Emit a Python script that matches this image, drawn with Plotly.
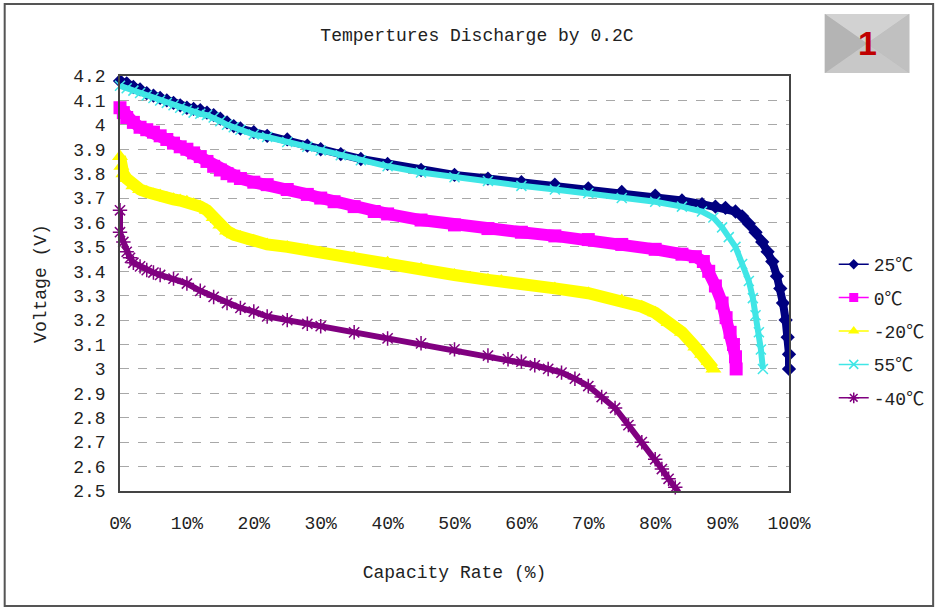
import plotly.graph_objects as go

# capacity (%) and voltage (V)
cap_25 = [0, 1, 2, 3, 4, 5, 6, 7, 8, 9, 10, 11, 12, 13, 14, 15, 16, 17, 18, 20, 22, 25, 28, 30, 33, 36, 40, 45,
          50, 55, 60, 65, 70, 75, 80, 84, 87, 89, 90.5, 92, 93, 94, 95, 96, 96.8, 97.5, 98.2, 98.7, 99.1, 99.5,
          99.8, 100, 100]
v_25 = [4.18, 4.17, 4.155, 4.145, 4.13, 4.12, 4.11, 4.10, 4.09, 4.08, 4.07, 4.065, 4.06, 4.05, 4.04, 4.025, 4.01,
        3.995, 3.985, 3.97, 3.955, 3.94, 3.915, 3.90, 3.88, 3.86, 3.84, 3.815, 3.795, 3.78, 3.765, 3.755, 3.74,
        3.725, 3.71, 3.69, 3.675, 3.665, 3.66, 3.645, 3.625, 3.595, 3.56, 3.52, 3.48, 3.44, 3.38, 3.33, 3.27,
        3.20, 3.13, 3.06, 3.00]

cap_0 = [0, 0.5, 1, 2, 3, 4, 5, 6, 7, 8, 9, 10, 11, 12, 13, 14, 15, 16, 17, 18, 20, 22, 25, 28, 30, 32, 35, 38,
         40, 45, 50, 55, 60, 65, 70, 75, 80, 84, 86, 87.2, 88, 89, 90, 90.6, 91.2, 91.7, 92, 92.1]
v_0 = [4.07, 4.05, 4.03, 4.01, 3.99, 3.98, 3.97, 3.955, 3.94, 3.925, 3.91, 3.90, 3.885, 3.87, 3.85, 3.83, 3.815,
       3.80, 3.79, 3.78, 3.765, 3.755, 3.735, 3.715, 3.70, 3.685, 3.665, 3.645, 3.635, 3.61, 3.59, 3.575, 3.56,
       3.545, 3.53, 3.51, 3.49, 3.47, 3.46, 3.44, 3.40, 3.34, 3.27, 3.21, 3.15, 3.10, 3.05, 3.00]

cap_m20 = [0, 0.2, 0.5, 1, 2, 3, 4, 5, 6, 7, 8, 9, 10, 11, 12, 13, 14, 15, 16, 17, 18, 20, 22, 25, 28, 30, 35,
           40, 45, 50, 55, 57, 60, 65, 70, 75, 78, 80, 82, 84, 86, 87, 88, 88.7]
v_m20 = [3.87, 3.83, 3.80, 3.78, 3.75, 3.735, 3.725, 3.715, 3.71, 3.70, 3.695, 3.69, 3.685, 3.675, 3.665, 3.65,
         3.62, 3.59, 3.565, 3.55, 3.54, 3.525, 3.51, 3.50, 3.485, 3.475, 3.455, 3.435, 3.41, 3.385, 3.365, 3.36,
         3.345, 3.33, 3.31, 3.28, 3.255, 3.23, 3.19, 3.15, 3.09, 3.06, 3.03, 3.00]

cap_55 = [0, 1, 2, 3, 4, 5, 6, 7, 8, 9, 10, 11, 12, 13, 14, 15, 16, 17, 18, 20, 22, 25, 28, 30, 33, 36, 40, 45,
          50, 55, 60, 65, 70, 75, 80, 84, 87, 88.7, 90, 91, 92, 93, 94, 94.6, 95, 95.5, 95.8, 96.1]
v_55 = [4.16, 4.15, 4.14, 4.13, 4.12, 4.11, 4.10, 4.09, 4.08, 4.07, 4.06, 4.05, 4.045, 4.04, 4.03, 4.015, 4.00,
        3.99, 3.98, 3.96, 3.95, 3.93, 3.91, 3.895, 3.875, 3.855, 3.83, 3.805, 3.785, 3.77, 3.75, 3.735, 3.72,
        3.70, 3.685, 3.665, 3.645, 3.62, 3.58, 3.54, 3.50, 3.43, 3.36, 3.29, 3.22, 3.15, 3.08, 3.00]

cap_m40 = [0, 0, 0.5, 1, 1.5, 2, 3, 4, 5, 6, 8, 10, 12, 14, 16, 18, 20, 22, 25, 28, 30, 35, 40, 45, 50, 55, 58,
           60, 62, 64, 66, 68, 70, 72, 74, 76, 78, 80, 81, 82, 83, 83.5]
v_m40 = [3.65, 3.56, 3.52, 3.48, 3.455, 3.435, 3.42, 3.405, 3.395, 3.385, 3.37, 3.35, 3.32, 3.295, 3.27, 3.25,
         3.235, 3.215, 3.20, 3.185, 3.175, 3.15, 3.125, 3.105, 3.08, 3.055, 3.04, 3.03, 3.015, 3.00, 2.985, 2.96,
         2.93, 2.885, 2.84, 2.77, 2.70, 2.63, 2.59, 2.55, 2.515, 2.495]

names = ["25℃", "0℃", "-20℃", "55℃", "-40℃"]
x_ticks = [0, 10, 20, 30, 40, 50, 60, 70, 80, 90, 100]
x_tick_text = ["0%", "10%", "20%", "30%", "40%", "50%", "60%", "70%", "80%", "90%", "100%"]
y_ticks = [4.2, 4.1, 4.0, 3.9, 3.8, 3.7, 3.6, 3.5, 3.4, 3.3, 3.2, 3.1, 3.0, 2.9, 2.8, 2.7, 2.6, 2.5]
y_tick_text = ["4.2", "4.1", "4", "3.9", "3.8", "3.7", "3.6", "3.5", "3.4", "3.3", "3.2", "3.1", "3",
               "2.9", "2.8", "2.7", "2.6", "2.5"]

W, H = 942, 610
L, R, T, B = 120, 793, 76, 491
FONT = "Liberation Mono, Noto Sans CJK SC, monospace"


def px(x):
    return (x - L) / (R - L)


def py(y):
    return (B - y) / (B - T)


styles = [
    # colour, marker symbol, marker size, band width, legend marker size
    ("#000080", "diamond", 11, 8, 8),
    ("#ff00ff", "square", 13, 12, 9),
    ("#ffff00", "triangle-up", 14, 12, 10),
    ("#40e6e6", "x-thin-open", 10, 6, 9),
    ("#800080", "asterisk-open", 12, 6, 9),
]
series = [(cap_25, v_25), (cap_0, v_0), (cap_m20, v_m20), (cap_55, v_55), (cap_m40, v_m40)]

fig = go.Figure()
for (xs, ys), name, (col, sym, msz, lw, lsz) in zip(series, names, styles):
    open_sym = sym.endswith("open")
    fig.add_trace(go.Scatter(
        x=xs, y=ys, mode="lines+markers", showlegend=False, cliponaxis=False,
        line=dict(color=col, width=lw),
        marker=dict(symbol=sym, size=msz, color=col,
                    line=dict(color=col, width=1.5 if open_sym else 0)),
    ))
for name, (col, sym, msz, lw, lsz) in zip(names, styles):
    open_sym = sym.endswith("open")
    fig.add_trace(go.Scatter(
        x=[None], y=[None], mode="lines+markers", name=name, legendgroup=name,
        line=dict(color=col, width=1.5),
        marker=dict(symbol=sym, size=lsz, color=col,
                    line=dict(color=col, width=1.5 if open_sym else 0)),
    ))

shapes = [
    # outer frame
    dict(type="rect", xref="paper", yref="paper", x0=px(4), x1=px(938), y0=py(606), y1=py(4),
         line=dict(color="#555555", width=2), fillcolor="rgba(0,0,0,0)", layer="below"),
]
# "1" badge
bx0, bx1, by0, by1 = 829, 914, 14, 73
cx, cy = (bx0 + bx1) / 2, (by0 + by1) / 2
shapes.append(dict(type="rect", xref="paper", yref="paper", x0=px(bx0), x1=px(bx1), y0=py(by1), y1=py(by0),
                   fillcolor="#bcbcbc", line=dict(width=0)))
for pts, fc in [([(bx0, by0), (bx1, by0), (cx, cy)], "#d2d2d2"),
                ([(bx0, by1), (bx1, by1), (cx, cy)], "#c8c8c8"),
                ([(bx0, by0), (bx0, by1), (cx, cy)], "#b4b4b4"),
                ([(bx1, by0), (bx1, by1), (cx, cy)], "#c0c0c0")]:
    path = "M " + " L ".join(f"{px(a):.4f},{py(b):.4f}" for a, b in pts) + " Z"
    shapes.append(dict(type="path", xref="paper", yref="paper", path=path, fillcolor=fc, line=dict(width=0)))

fig.update_layout(
    width=W, height=H,
    margin=dict(l=L, r=W - R, t=T, b=H - B),
    paper_bgcolor="white", plot_bgcolor="white",
    font=dict(family=FONT, size=18, color="#222222"),
    title=dict(text="Tempertures Discharge by 0.2C", xref="container", x=477 / W, xanchor="center",
               yref="container", y=1 - 35 / H, yanchor="middle",
               font=dict(family=FONT, size=18, color="#222222")),
    xaxis=dict(range=[0, 100], tickvals=x_ticks, ticktext=x_tick_text, showgrid=False, zeroline=False,
               showline=True, linecolor="#444444", linewidth=1.5, mirror=True, ticks="",
               ticklabelstandoff=15, automargin=False,
               title=dict(text="Capacity Rate (%)", standoff=32, font=dict(size=18))),
    yaxis=dict(range=[2.5, 4.2], tickvals=y_ticks, ticktext=y_tick_text, showgrid=True,
               gridcolor="#a8a8a8", griddash="dash", gridwidth=1, zeroline=False,
               showline=True, linecolor="#444444", linewidth=1.5, mirror=True, ticks="",
               ticklabelstandoff=9, automargin=False,
               title=dict(text="Voltage (V)", standoff=22, font=dict(size=18))),
    legend=dict(x=px(838), y=py(331), xanchor="left", yanchor="middle", bgcolor="rgba(0,0,0,0)",
                font=dict(family=FONT, size=18, color="#222222"), tracegroupgap=7,
                traceorder="grouped", itemwidth=30),
    shapes=shapes,
    annotations=[dict(text="<b>1</b>", x=px(cx), y=py(cy), xref="paper", yref="paper", showarrow=False,
                      xanchor="center", yanchor="middle",
                      font=dict(family="Liberation Sans, Arial", size=34, color="#c00000"))],
)

fig.write_html("out.html", config={"displayModeBar": False},
               post_script="document.body.style.margin='0';")
